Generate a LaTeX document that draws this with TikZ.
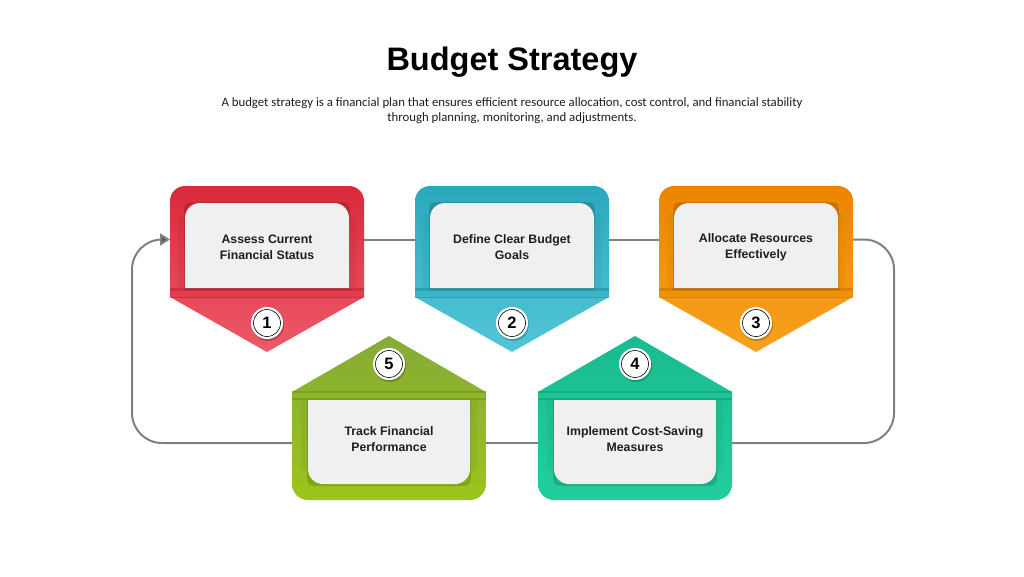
\documentclass[tikz,border=0pt]{standalone}
\usepackage{fontspec}
\setmainfont{Liberation Sans}
\newfontfamily\subfont{Carlito}
\usetikzlibrary{arrows.meta}
\pgfdeclarelayer{bg}
\pgfsetlayers{bg,main}
\definecolor{linegray}{HTML}{808080}
\definecolor{arrowgray}{HTML}{555555}
\definecolor{boxgray}{HTML}{F0F0F0}
\definecolor{textdark}{HTML}{1E1E1E}
\definecolor{redT}{HTML}{D92A3A}\definecolor{redB}{HTML}{EC5A69}\definecolor{redD}{HTML}{B81E2C}
\definecolor{tealT}{HTML}{2BA8BC}\definecolor{tealB}{HTML}{52C6D8}\definecolor{tealD}{HTML}{1F8C9C}
\definecolor{oraT}{HTML}{EB8500}\definecolor{oraB}{HTML}{F7A21E}\definecolor{oraD}{HTML}{C96F00}
\definecolor{grnT}{HTML}{86AA38}\definecolor{grnB}{HTML}{9CC51A}\definecolor{grnD}{HTML}{6E8F22}
\definecolor{tgrT}{HTML}{19BB8F}\definecolor{tgrB}{HTML}{23CE9D}\definecolor{tgrD}{HTML}{129C75}
\tikzset{
  conn/.style={draw=linegray, line width=2pt, rounded corners=30pt},
  anchorbox/.style={minimum width=194pt, inner sep=0pt, outer sep=0pt, draw=none},
  stepnum/.style={circle, draw=black, line width=0.6pt, fill=white, minimum size=27pt, inner sep=0pt, font=\bfseries\fontsize{16.5}{16.5}\selectfont},
  steptext/.style={align=center, font=\bfseries\fontsize{12.3}{16}\selectfont, text=textdark, inner sep=0pt},
}
% #1 cx, #2 index, #3 top colour, #4 bottom colour, #5 dark colour, #6 text
\newcommand{\myDownShape}[6]{%
  \shade[top color=#3, bottom color=#4] ({#1-97},297) -- ({#1-97},201) .. controls ({#1-97},192.7) and ({#1-90.3},186) .. ({#1-82},186) -- ({#1+82},186) .. controls ({#1+90.3},186) and ({#1+97},192.7) .. ({#1+97},201) -- ({#1+97},297) -- (#1,352) -- cycle;
  \fill[#5, opacity=0.15] ({#1-89},214) rectangle ({#1-82},288);
  \fill[#5, opacity=0.15] ({#1+82},214) rectangle ({#1+89},288);
  \fill[#5, opacity=0.55] ({#1-97},288) rectangle ({#1+97},298);
  \fill[#3!60!#4] ({#1-97},290.5) rectangle ({#1+97},296.5);
  \fill[black, opacity=0.15] ({#1-83},290) -- ({#1-83},217) .. controls ({#1-83},202) .. ({#1-68},202) -- ({#1+68},202) .. controls ({#1+83},202) .. ({#1+83},217) -- ({#1+83},290) -- cycle;
  \fill[boxgray] ({#1-82},288) -- ({#1-82},218) .. controls ({#1-82},209.7) and ({#1-75.3},203) .. ({#1-67},203) -- ({#1+67},203) .. controls ({#1+75.3},203) and ({#1+82},209.7) .. ({#1+82},218) -- ({#1+82},288) -- cycle;
  \node[steptext] (t#2) at (#1,247) {#6};
  \fill[black, opacity=0.2] ({#1+1},325) circle (16);
  \fill[white] (#1,323) circle (16);
  \node[stepnum] (n#2) at (#1,323) {#2};
}
\newcommand{\myUpShape}[6]{%
  \shade[top color=#3, bottom color=#4] ({#1-97},392) -- (#1,336) -- ({#1+97},392) -- ({#1+97},484) .. controls ({#1+97},492.8) and ({#1+89.8},500) .. ({#1+81},500) -- ({#1-81},500) .. controls ({#1-89.8},500) and ({#1-97},492.8) .. ({#1-97},484) -- cycle;
  \fill[#5, opacity=0.15] ({#1-88},400) rectangle ({#1-81},470);
  \fill[#5, opacity=0.15] ({#1+81},400) rectangle ({#1+88},470);
  \fill[#5, opacity=0.55] ({#1-97},391) rectangle ({#1+97},400);
  \fill[#3!50!#4] ({#1-97},393) rectangle ({#1+97},398);
  \fill[black, opacity=0.15] ({#1-82},400) -- ({#1+82},400) -- ({#1+82},471) .. controls ({#1+82},486) .. ({#1+67},486) -- ({#1-67},486) .. controls ({#1-82},486) .. ({#1-82},471) -- cycle;
  \fill[boxgray] ({#1-81},400) -- ({#1+81},400) -- ({#1+81},469) .. controls ({#1+81},477.3) and ({#1+74.3},484) .. ({#1+66},484) -- ({#1-66},484) .. controls ({#1-74.3},484) and ({#1-81},477.3) .. ({#1-81},469) -- cycle;
  \node[steptext] (t#2) at (#1,439) {#6};
  \fill[black, opacity=0.2] ({#1+1},366) circle (16);
  \fill[white] (#1,364) circle (16);
  \node[stepnum] (n#2) at (#1,364) {#2};
}
\begin{document}
\begin{tikzpicture}[x=1pt,y=-1pt]
\useasboundingbox (0,0) rectangle (1024,576);
\begin{pgfonlayer}{bg}
\fill[white] (0,0) rectangle (1024,576);
\end{pgfonlayer}
% title
\node[font=\bfseries\fontsize{32.5}{36}\selectfont] (title) at (512,62) {Budget Strategy};
\node[font=\subfont\fontsize{12.8}{15}\selectfont, align=center, text=textdark] (sub) at (512,110.5) {A budget strategy is a financial plan that ensures efficient resource allocation, cost control, and financial stability\\through planning, monitoring, and adjustments.};
% anchor boxes
\node[anchorbox, minimum height=107pt, anchor=north] (s1) at (267,186) {};
\node[anchorbox, minimum height=107pt, anchor=north] (s2) at (512,186) {};
\node[anchorbox, minimum height=107pt, anchor=north] (s3) at (756,186) {};
\node[anchorbox, minimum height=114pt, anchor=south] (s4) at (635,500) {};
\node[anchorbox, minimum height=114pt, anchor=south] (s5) at (389,500) {};
\coordinate (rc) at (894,443);
\coordinate (lc) at (132,340);
% connectors
\begin{pgfonlayer}{bg}
\draw[conn] (s1.east) -- (s2.west);
\draw[conn] (s2.east) -- (s3.west);
\draw[conn] (s3.east) -| (rc) -- (s4.east);
\draw[conn] (s4.west) -- (s5.east);
\draw[conn, -{Triangle[length=10pt,width=12pt,fill=arrowgray]}] (s5.west) -| (lc) |- (s1.west);
\end{pgfonlayer}
% shapes
\myDownShape{267}{1}{redT}{redB}{redD}{Assess Current\\Financial Status}
\myDownShape{512}{2}{tealT}{tealB}{tealD}{Define Clear Budget\\Goals}
\myDownShape{756}{3}{oraT}{oraB}{oraD}{Allocate Resources\\Effectively}
\myUpShape{635}{4}{tgrT}{tgrB}{tgrD}{Implement Cost-Saving\\Measures}
\myUpShape{389}{5}{grnT}{grnB}{grnD}{Track Financial\\Performance}
\end{tikzpicture}
\end{document}
